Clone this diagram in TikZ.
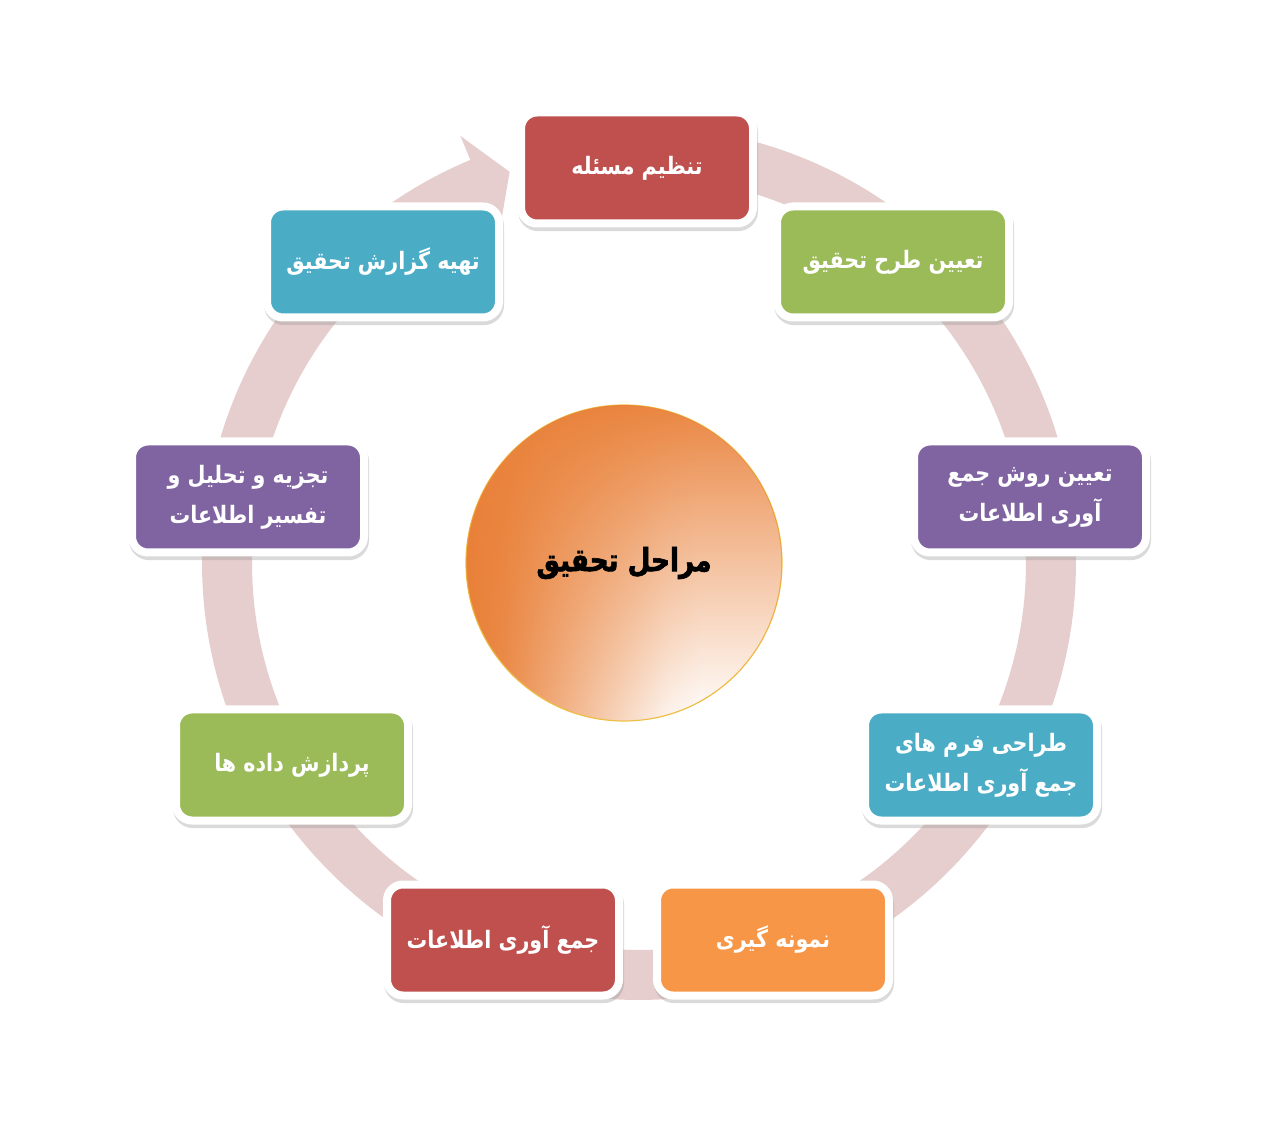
\documentclass[tikz,border=0pt]{standalone}
\usepackage{fontspec}
\newfontfamily\af[Script=Arabic,FakeStretch=0.86]{DejaVu Sans}
\newfontfamily\afc[Script=Arabic,FakeStretch=0.82,BoldFeatures={FakeBold=2}]{DejaVu Sans}
\TeXXeTstate=1
\usetikzlibrary{shadows,fadings}
\definecolor{cred}{RGB}{192,80,77}
\definecolor{cgreen}{RGB}{155,187,89}
\definecolor{cpurple}{RGB}{128,100,162}
\definecolor{ccyan}{RGB}{75,172,198}
\definecolor{corange}{RGB}{247,150,70}
\definecolor{bandc}{RGB}{230,206,206}
\definecolor{cdark}{RGB}{233,128,56}
\definecolor{rimc}{RGB}{240,192,70}
\definecolor{shadc}{RGB}{150,150,150}
\pgfdeclarehorizontalshading{hshade}{100bp}{color(0bp)=(cdark); color(25bp)=(cdark); color(31bp)=(cdark!90!white); color(42bp)=(cdark!55!white); color(50bp)=(cdark!30!white); color(57bp)=(cdark!8!white); color(62bp)=(white); color(100bp)=(white)}
\tikzfading[name=topfade, top color=transparent!5, middle color=transparent!100, bottom color=transparent!100]
\tikzset{
  stepbox/.style={rounded corners=8pt, draw=white, line width=4pt,
    minimum width=116pt, minimum height=55.5pt, text=white, align=center,
    font=\af\bfseries\fontsize{12}{20}\selectfont,
    drop shadow={shadow xshift=0.5pt, shadow yshift=-1.8pt, opacity=0.35, fill=shadc, draw=shadc}},
  ring/.style={draw=bandc, line width=25pt},
}
\begin{document}
\begin{tikzpicture}[x=0.5pt,y=-0.5pt]
\useasboundingbox (0,0) rectangle (1280,1138);
% ring band
\draw[ring] plot[domain=-85:247.6, samples=240] ({639+412*cos(\x)},{563+412*sin(\x)});
\fill[bandc] ({639+361*cos(247.3)},{563+361*sin(247.3)}) -- ({639+463*cos(247.3)},{563+463*sin(247.3)}) -- ({639+412*cos(251.7)},{563+412*sin(251.7)}) -- cycle;
% boxes
\node[stepbox, fill=cred] (s1) at (637,168) {\beginR تنظیم مسئله\endR};
\node[stepbox, fill=cgreen] (s2) at (893,262) {\beginR تعیین طرح تحقیق\endR};
\node[stepbox, fill=cpurple] (s3) at (1030,497) {\beginR تعیین روش جمع\endR\\\beginR آوری اطلاعات\endR};
\node[stepbox, fill=ccyan] (s4) at (981,765) {\beginR طراحی فرم های\endR\\\beginR جمع آوری اطلاعات\endR};
\node[stepbox, fill=corange] (s5) at (773,940) {\beginR نمونه گیری\endR};
\node[stepbox, fill=cred] (s6) at (503,940) {\beginR جمع آوری اطلاعات\endR};
\node[stepbox, fill=cgreen] (s7) at (292,765) {\beginR پردازش داده ها\endR};
\node[stepbox, fill=cpurple] (s8) at (248,497) {\beginR تجزیه و تحلیل و\endR\\\beginR تفسیر اطلاعات\endR};
\node[stepbox, fill=ccyan] (s9) at (383,262) {\beginR تهیه گزارش تحقیق\endR};
% centre
\node[circle, minimum size=158pt, inner sep=0pt, draw=rimc, line width=0.6pt,
  shading=hshade,
  postaction={fill=cdark, path fading=topfade},
  font=\afc\bfseries\fontsize{16}{20}\selectfont] (c) at (624,563) {\beginR مراحل تحقیق\endR};
\end{tikzpicture}
\end{document}
